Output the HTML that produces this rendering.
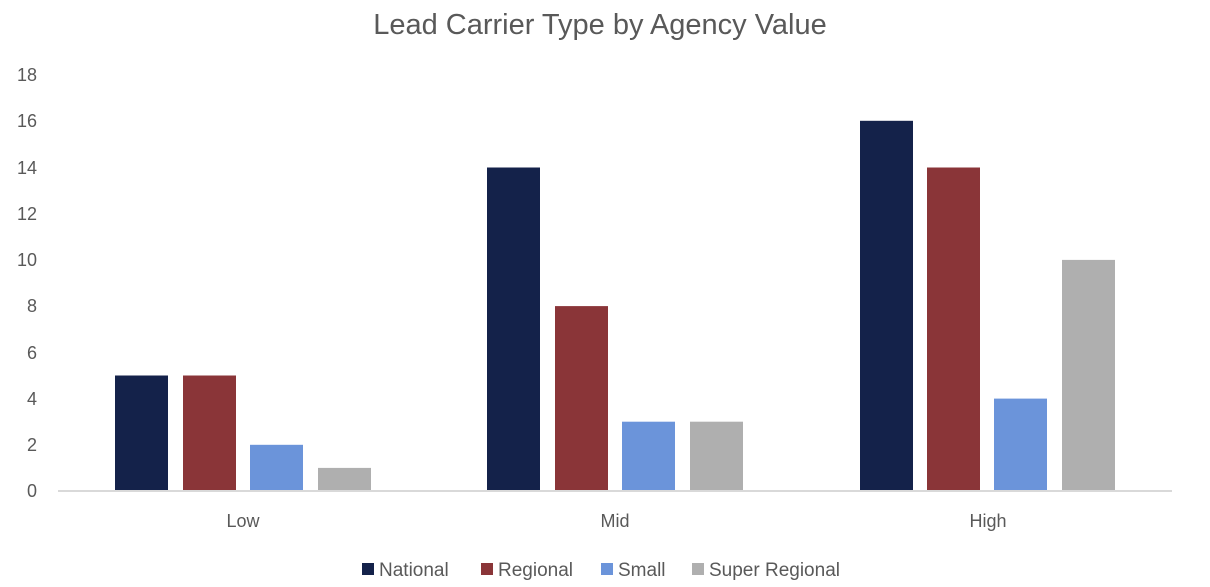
<!DOCTYPE html>
<html><head><meta charset="utf-8"><style>
html,body{margin:0;padding:0;background:#fff;}
svg{display:block;font-family:"Liberation Sans",sans-serif;}
</style></head><body>
<svg width="1210" height="587" viewBox="0 0 1210 587" xmlns="http://www.w3.org/2000/svg">
<rect width="1210" height="587" fill="#fff"/>
<text x="600" y="34" text-anchor="middle" font-size="29" fill="#595959">Lead Carrier Type by Agency Value</text>
<g font-size="18" fill="#595959" text-anchor="end">
<text x="37" y="81">18</text>
<text x="37" y="127">16</text>
<text x="37" y="174">14</text>
<text x="37" y="220">12</text>
<text x="37" y="266">10</text>
<text x="37" y="312">8</text>
<text x="37" y="359">6</text>
<text x="37" y="405">4</text>
<text x="37" y="451">2</text>
<text x="37" y="497">0</text>
</g>
<g>
<rect x="115" y="375.5" width="53" height="115.5" fill="#14224a"/>
<rect x="183" y="375.5" width="53" height="115.5" fill="#8a3538"/>
<rect x="250" y="444.8" width="53" height="46.2" fill="#6b94da"/>
<rect x="318" y="467.9" width="53" height="23.1" fill="#afafaf"/>
<rect x="487" y="167.5" width="53" height="323.5" fill="#14224a"/>
<rect x="555" y="306.1" width="53" height="184.9" fill="#8a3538"/>
<rect x="622" y="421.7" width="53" height="69.3" fill="#6b94da"/>
<rect x="690" y="421.7" width="53" height="69.3" fill="#afafaf"/>
<rect x="860" y="120.8" width="53" height="370.2" fill="#14224a"/>
<rect x="927" y="167.5" width="53" height="323.5" fill="#8a3538"/>
<rect x="994" y="398.6" width="53" height="92.4" fill="#6b94da"/>
<rect x="1062" y="259.9" width="53" height="231.1" fill="#afafaf"/>
</g>
<line x1="58" y1="491" x2="1172" y2="491" stroke="#d9d9d9" stroke-width="2"/>
<g font-size="18" fill="#595959" text-anchor="middle">
<text x="243" y="527">Low</text>
<text x="615" y="527">Mid</text>
<text x="988" y="527">High</text>
</g>
<g font-size="19" fill="#595959">
<rect x="362" y="563" width="12" height="12" fill="#14224a"/>
<text x="379" y="576">National</text>
<rect x="481" y="563" width="12" height="12" fill="#8a3538"/>
<text x="498" y="576">Regional</text>
<rect x="601" y="563" width="12" height="12" fill="#6b94da"/>
<text x="618" y="576">Small</text>
<rect x="692" y="563" width="12" height="12" fill="#afafaf"/>
<text x="709" y="576">Super Regional</text>
</g>
</svg>
</body></html>
